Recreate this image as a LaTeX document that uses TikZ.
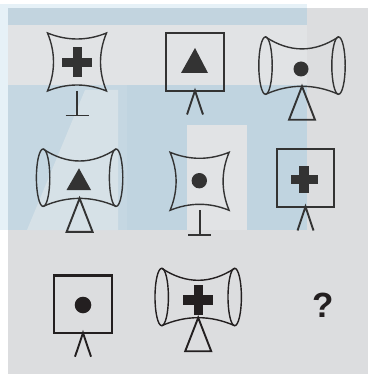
\documentclass[tikz,border=0pt]{standalone}
\usepackage{fontspec}
\setmainfont{Liberation Sans}
\definecolor{panel}{HTML}{DCDDDF}
\definecolor{panellight}{HTML}{E1E3E5}
\definecolor{wmblue}{HTML}{C0D4E0}
\definecolor{wmband}{HTML}{C2D4DF}
\definecolor{wmsoft}{HTML}{D6E1E7}
\definecolor{wmedge}{HTML}{E6F1F7}
\definecolor{inkA}{HTML}{333333}
\definecolor{inkB}{HTML}{231F20}
\tikzset{
  outline/.style={line width=1.4pt, line join=miter},
  framed/.style={line width=2.2pt},
  stand/.style={line width=1.9pt},
  % concave four-pointed frame on a T stand
  cushion/.pic={
    \draw[outline] (-29.5,-29) .. controls (-9.8,-21) and (9.8,-21) .. (29.5,-29)
      .. controls (21.5,-9.7) and (21.5,9.7) .. (29.5,29)
      .. controls (9.8,21) and (-9.8,21) .. (-29.5,29)
      .. controls (-21.5,9.7) and (-21.5,-9.7) .. cycle;
    \draw[stand] (0,29) -- (0,53.5);
    \draw[stand] (-11.5,53.5) -- (11.5,53.5);
  },
  % square frame on two legs
  easel/.pic={
    \draw[framed] (-28.8,-28.7) rectangle (28.8,28.7);
    \draw[stand] (-8,52.5) -- (0,28.7) -- (8,52.5);
  },
  % waisted drum on a triangle
  drum/.pic={
    \draw[outline] (-36.5,0) ellipse [x radius=6.7, y radius=28.7];
    \draw[outline] (36.5,0) ellipse [x radius=6.7, y radius=28.7];
    \draw[outline] (-36.5,-28.7) .. controls (-12.2,-12.7) and (12.2,-12.7) .. (36.5,-28.7);
    \draw[outline] (-36.5,28.7) .. controls (-12.2,18) and (12.2,18) .. (36.5,28.7);
    \draw[stand] (0,20.7) -- (-13,54.2) -- (13,54.2) -- cycle;
  },
  plussign/.pic={
    \fill ({-#1/2},-4.8) rectangle ({#1/2},4.8);
    \fill (-4.8,{-#1/2}) rectangle (4.8,{#1/2});
  }
}
\begin{document}
\begin{tikzpicture}[x=1pt,y=-1pt]
\useasboundingbox (0,0) rectangle (368,374);
% paper and grey panel
\fill[white] (0,0) rectangle (368,374);
\fill[panel] (8,8) rectangle (368,374);
% pale blue backdrop lettering
\fill[wmedge] (0,4) rectangle (307,8);
\fill[wmedge] (0,8) rectangle (8,230);
\fill[wmband] (8,8) rectangle (307,25);
\fill[panellight] (8,25) rectangle (307,85);
\fill[wmblue] (127,85) rectangle (307,230);
\fill[panellight] (187,125) rectangle (247,230);
\fill[wmblue!92!white] (8,85) rectangle (127,230);
\fill[wmsoft] (85,90) -- (118,90) -- (118,230) -- (27,230) -- cycle;

% first row
\begin{scope}[draw=inkA, fill=inkA, color=inkA]
  \pic at (77,62) {cushion};
  \pic at (77.3,62.5) {plussign=30};
  \pic at (195,62) {easel};
  \fill (195,48) -- (208,73) -- (181,73) -- cycle;
  \pic at (302,65.6) {drum};
  \fill (301,69) circle [radius=7.5];
% second row
  \pic at (79.6,177.7) {drum};
  \fill (79,168.3) -- (91,190) -- (66.5,190) -- cycle;
  \pic at (199.6,181.3) {cushion};
  \fill (199.3,180.7) circle [radius=7.7];
  \pic at (305.5,178) {easel};
  \pic at (304,179.3) {plussign=27};
\end{scope}
% third row
\begin{scope}[draw=inkB, fill=inkB, color=inkB]
  \pic at (83,304.2) {easel};
  \fill (83,305) circle [radius=8.3];
  \pic at (198.2,297) {drum};
  \pic at (198.3,300) {plussign=30};
  \node[text=inkB, font=\fontsize{35}{35}\selectfont\bfseries, inner sep=0pt] (q) at (322.7,305) {?};
\end{scope}
\end{tikzpicture}
\end{document}
